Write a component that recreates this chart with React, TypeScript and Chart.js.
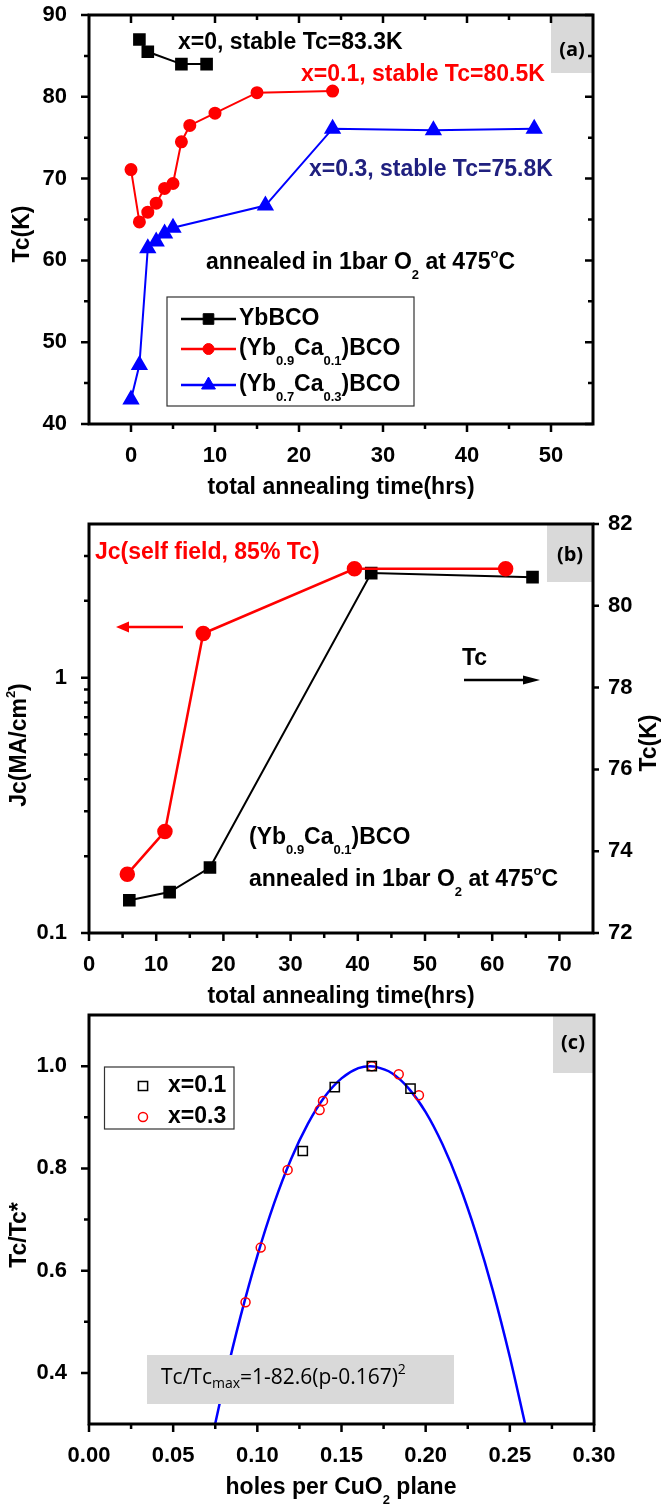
import React, { useEffect, useRef } from 'react';
import { Chart, registerables } from 'chart.js';

Chart.register(...registerables);

const SANS = '"Liberation Sans", Arial, Helvetica, sans-serif';
const ALT = '"Open Sans", "Noto Sans", sans-serif';
const RED = '#ff0000';
const BLUE = '#0000ff';
const NAVY = '#20207f';
const GRAY = '#d9d9d9';

// ---------- Panel (a): Tc vs total annealing time ----------
const timeX0 = [1, 2, 6, 9];
const tcX0 = [87.0, 85.5, 84.0, 84.0];
const timeX01 = [0, 1, 2, 3, 4, 5, 6, 7, 10, 15, 24];
const tcX01 = [71.1, 64.7, 65.9, 67.0, 68.8, 69.4, 74.5, 76.5, 78.0, 80.5, 80.7];
const timeX03 = [0, 1, 2, 3, 4, 5, 16, 24, 36, 48];
const tcX03 = [43.0, 47.2, 61.5, 62.3, 63.3, 64.0, 66.7, 76.1, 75.9, 76.1];
const xTicksA = [0, 10, 20, 30, 40, 50];
const xMinorA = [5, 15, 25, 35, 45];
const yTicksA = [40, 50, 60, 70, 80, 90];
const yMinorA = [45, 55, 65, 75, 85];

// ---------- Panel (b): Jc and Tc vs time ----------
const timeJc = [5.7, 11.3, 17.0, 39.5, 62.0];
const jcValues = [0.17, 0.25, 1.49, 2.67, 2.67];
const timeTcB = [6, 12, 18, 42, 66];
const tcValuesB = [72.8, 73.0, 73.6, 80.8, 80.7];
const xTicksB = [0, 10, 20, 30, 40, 50, 60, 70];
const xMinorB = [5, 15, 25, 35, 45, 55, 65];
const jcTicks = [0.1, 1];
const jcMinor = [0.2, 0.3, 0.4, 0.5, 0.6, 0.7, 0.8, 0.9, 2, 3];
const tcTicksB = [72, 74, 76, 78, 80, 82];

// ---------- Panel (c): Tc/Tc* vs hole concentration ----------
const holesX01 = [0.127, 0.146, 0.168, 0.191];
const ratioX01 = [0.834, 0.959, 1.0, 0.956];
const holesX03 = [0.093, 0.102, 0.118, 0.137, 0.139, 0.168, 0.184, 0.196];
const ratioX03 = [0.538, 0.645, 0.797, 0.914, 0.932, 1.0, 0.984, 0.943];
const fitHoles = [0.075, 0.08, 0.09, 0.1, 0.11, 0.12, 0.13, 0.14, 0.15, 0.16, 0.167, 0.17, 0.18, 0.19, 0.2, 0.21, 0.22, 0.23, 0.24, 0.25, 0.259];
const fitRatio = [0.301, 0.375, 0.51, 0.629, 0.732, 0.818, 0.887, 0.94, 0.976, 0.996, 1.0, 0.999, 0.986, 0.956, 0.91, 0.847, 0.768, 0.672, 0.56, 0.431, 0.301];
const xTicksC = [0, 0.05, 0.1, 0.15, 0.2, 0.25, 0.3];
const xMinorC = [0.025, 0.075, 0.125, 0.175, 0.225, 0.275];
const yTicksC = [0.4, 0.6, 0.8, 1.0];
const yMinorC = [0.5, 0.7, 0.9];

// ---------- helpers ----------
type Part = { t: string; k?: 'sub' | 'sup' };
interface RichOpt {
  size: number; small?: number; weight?: string; family?: string; color?: string;
  align?: 'left' | 'center'; subDy?: number; supDy?: number;
}

function drawRich(ctx: CanvasRenderingContext2D, parts: Part[], x: number, y: number, o: RichOpt) {
  const size = o.size;
  const small = o.small ?? Math.round(size * 0.58);
  const weight = o.weight ?? 'bold';
  const fam = o.family ?? SANS;
  const fontFor = (p: Part) => `${weight} ${p.k ? small : size}px ${fam}`;
  let total = 0;
  const widths = parts.map((p) => {
    ctx.font = fontFor(p);
    const w = ctx.measureText(p.t).width;
    total += w;
    return w;
  });
  let cx = o.align === 'center' ? x - total / 2 : x;
  ctx.fillStyle = o.color ?? '#000';
  ctx.textAlign = 'left';
  ctx.textBaseline = 'middle';
  parts.forEach((p, i) => {
    ctx.font = fontFor(p);
    const dy = p.k === 'sub' ? (o.subDy ?? size * 0.5) : p.k === 'sup' ? (o.supDy ?? -size * 0.42) : 0;
    ctx.fillText(p.t, cx, y + dy);
    cx += widths[i];
  });
}

function drawRotated(ctx: CanvasRenderingContext2D, parts: Part[], x: number, y: number, o: RichOpt) {
  ctx.save();
  ctx.translate(x, y);
  ctx.rotate(-Math.PI / 2);
  drawRich(ctx, parts, 0, 0, { ...o, align: 'center' });
  ctx.restore();
}

function marker(ctx: CanvasRenderingContext2D, style: string, x: number, y: number, r: number, fill: string | null, stroke: string, lw: number) {
  ctx.beginPath();
  if (style === 'rect') {
    const h = r * Math.SQRT1_2;
    ctx.rect(x - h, y - h, 2 * h, 2 * h);
  } else if (style === 'circle') {
    ctx.arc(x, y, r, 0, Math.PI * 2);
  } else {
    for (let i = 0; i < 3; i++) {
      const a = (i * 2 * Math.PI) / 3;
      const px = x + Math.sin(a) * r;
      const py = y - Math.cos(a) * r;
      if (i === 0) ctx.moveTo(px, py); else ctx.lineTo(px, py);
    }
    ctx.closePath();
  }
  if (fill) { ctx.fillStyle = fill; ctx.fill(); }
  ctx.lineWidth = lw;
  ctx.strokeStyle = stroke;
  ctx.stroke();
}

function drawTicks(chart: any, scaleId: string, side: string, dir: 'in' | 'out', values: number[], len: number) {
  const ctx: CanvasRenderingContext2D = chart.ctx;
  const s = chart.scales[scaleId];
  const a = chart.chartArea;
  ctx.beginPath();
  ctx.lineWidth = 2.5;
  ctx.strokeStyle = '#000';
  values.forEach((v) => {
    const p = s.getPixelForValue(v);
    const sgn = dir === 'out' ? 1 : -1;
    if (side === 'bottom') { ctx.moveTo(p, a.bottom); ctx.lineTo(p, a.bottom + sgn * len); }
    if (side === 'top') { ctx.moveTo(p, a.top); ctx.lineTo(p, a.top - sgn * len); }
    if (side === 'left') { ctx.moveTo(a.left, p); ctx.lineTo(a.left - sgn * len, p); }
    if (side === 'right') { ctx.moveTo(a.right, p); ctx.lineTo(a.right + sgn * len, p); }
  });
  ctx.stroke();
}

function drawFrame(chart: any) {
  const ctx: CanvasRenderingContext2D = chart.ctx;
  const a = chart.chartArea;
  ctx.lineWidth = 3;
  ctx.strokeStyle = '#000';
  ctx.strokeRect(a.left, a.top, a.right - a.left, a.bottom - a.top);
}

function labelBox(ctx: CanvasRenderingContext2D, txt: string, x0: number, y0: number, x1: number, y1: number, tx: number, ty: number) {
  ctx.fillStyle = GRAY;
  ctx.fillRect(x0, y0, x1 - x0, y1 - y0);
  ctx.fillStyle = '#000';
  ctx.font = `bold 20px ${ALT}`;
  ctx.textAlign = 'center';
  ctx.textBaseline = 'middle';
  ctx.fillText(txt, tx, ty);
}

function arrow(ctx: CanvasRenderingContext2D, x0: number, x1: number, y: number, color: string, headL: number, headH: number) {
  const dir = Math.sign(x1 - x0);
  ctx.strokeStyle = color;
  ctx.fillStyle = color;
  ctx.lineWidth = 2.5;
  ctx.beginPath();
  ctx.moveTo(x0, y);
  ctx.lineTo(x1 - dir * headL * 0.8, y);
  ctx.stroke();
  ctx.beginPath();
  ctx.moveTo(x1, y);
  ctx.lineTo(x1 - dir * headL, y - headH / 2);
  ctx.lineTo(x1 - dir * headL, y + headH / 2);
  ctx.closePath();
  ctx.fill();
}

const tickFont = { family: SANS, size: 22, weight: 'bold' as const };

function xAxis(min: number, max: number, ticks: number[], height: number, fmt: (v: number) => string) {
  return {
    type: 'linear',
    min, max,
    grid: { display: false },
    border: { display: false },
    ticks: { font: tickFont, color: '#000', padding: 11, maxRotation: 0, autoSkip: false, callback: (v: number) => fmt(v) },
    afterBuildTicks: (s: any) => { s.ticks = ticks.map((v) => ({ value: v })); },
    afterFit: (s: any) => { s.height = height; s.paddingLeft = 0; s.paddingRight = 0; },
  };
}

function yAxis(type: string, min: number, max: number, ticks: number[], width: number, fmt: (v: number) => string, position: string, padding: number) {
  return {
    type,
    position,
    min, max,
    grid: { display: false },
    border: { display: false },
    ticks: { font: tickFont, color: '#000', padding, autoSkip: false, callback: (v: number) => fmt(v) },
    afterBuildTicks: (s: any) => { s.ticks = ticks.map((v) => ({ value: v })); },
    afterFit: (s: any) => { s.width = width; s.paddingTop = 0; s.paddingBottom = 0; },
  };
}

const pts = (xs: number[], ys: number[]) => xs.map((x, i) => ({ x, y: ys[i] }));

const baseOptions = (padding: any) => ({
  responsive: false,
  animation: false,
  devicePixelRatio: 1,
  events: [],
  layout: { padding },
  plugins: { legend: { display: false }, tooltip: { enabled: false } },
});

// ---------- Chart (a) ----------
const TOP_A = 0, H_A = 515, BOT_A = 424;
const decorA = {
  id: 'decorA',
  afterDatasetsDraw(chart: any) {
    const ctx: CanvasRenderingContext2D = chart.ctx;
    const a = chart.chartArea;
    ctx.save();
    ctx.translate(0, -TOP_A);
    labelBox(ctx, '(a)', 551, a.top + TOP_A, a.right, 73, 572, 50);
    ctx.restore();
    drawFrame(chart);
    drawTicks(chart, 'x', 'bottom', 'out', xTicksA, 8);
    drawTicks(chart, 'x', 'bottom', 'out', xMinorA, 5);
    drawTicks(chart, 'x', 'top', 'in', xTicksA, 8);
    drawTicks(chart, 'x', 'top', 'in', xMinorA, 5);
    drawTicks(chart, 'y', 'left', 'out', yTicksA, 8);
    drawTicks(chart, 'y', 'left', 'out', yMinorA, 5);
    drawTicks(chart, 'y', 'right', 'in', yTicksA, 8);
    drawTicks(chart, 'y', 'right', 'in', yMinorA, 5);
    ctx.save();
    ctx.translate(0, -TOP_A);
    drawRich(ctx, [{ t: 'x=0, stable Tc=83.3K' }], 178, 43, { size: 23 });
    drawRich(ctx, [{ t: 'x=0.1, stable Tc=80.5K' }], 301, 75, { size: 23, color: RED });
    drawRich(ctx, [{ t: 'x=0.3, stable Tc=75.8K' }], 309, 170, { size: 23, color: NAVY });
    drawRich(ctx, [{ t: 'annealed in 1bar O' }, { t: '2', k: 'sub' }, { t: ' at 475' }, { t: 'o', k: 'sup' }, { t: 'C' }], 206, 263,
      { size: 23, small: 13, subDy: 12, supDy: -9 });
    // legend
    ctx.lineWidth = 1.2;
    ctx.strokeStyle = '#333';
    ctx.strokeRect(167, 297, 247, 109);
    const rows: [number, string, string, Part[]][] = [
      [319, '#000', 'rect', [{ t: 'YbBCO' }]],
      [349, RED, 'circle', [{ t: '(Yb' }, { t: '0.9', k: 'sub' }, { t: 'Ca' }, { t: '0.1', k: 'sub' }, { t: ')BCO' }]],
      [385, BLUE, 'triangle', [{ t: '(Yb' }, { t: '0.7', k: 'sub' }, { t: 'Ca' }, { t: '0.3', k: 'sub' }, { t: ')BCO' }]],
    ];
    rows.forEach(([y, c, st, parts]) => {
      ctx.strokeStyle = c;
      ctx.lineWidth = 2.5;
      ctx.beginPath();
      ctx.moveTo(181, y);
      ctx.lineTo(236, y);
      ctx.stroke();
      marker(ctx, st, 208.5, y, st === 'rect' ? 7.5 : st === 'circle' ? 5.5 : 8, c, c, 1);
      drawRich(ctx, parts, 239, y, { size: 23, small: 13, subDy: 12 });
    });
    drawRotated(ctx, [{ t: 'Tc(K)' }], 23, 234, { size: 23 });
    drawRich(ctx, [{ t: 'total annealing time(hrs)' }], 341, 488, { size: 23, align: 'center' });
    ctx.restore();
  },
};

function configA(): any {
  return {
    type: 'line',
    data: {
      datasets: [
        { data: pts(timeX0, tcX0), borderColor: '#000', backgroundColor: '#000', pointStyle: 'rect', pointRadius: 7.5, borderWidth: 2, tension: 0 },
        { data: pts(timeX01, tcX01), borderColor: RED, backgroundColor: RED, pointStyle: 'circle', pointRadius: 5.5, borderWidth: 2, tension: 0 },
        { data: pts(timeX03, tcX03), borderColor: BLUE, backgroundColor: BLUE, pointStyle: 'triangle', pointRadius: 8, borderWidth: 2, tension: 0 },
      ],
    },
    options: {
      ...baseOptions({ top: 15 - TOP_A, right: 78, left: 0, bottom: 0 }),
      scales: {
        x: xAxis(-5, 55, xTicksA, TOP_A + H_A - BOT_A, (v) => String(v)),
        y: yAxis('linear', 40, 90, yTicksA, 89, (v) => String(v), 'left', 14),
      },
    },
    plugins: [decorA],
  };
}

// ---------- Chart (b) ----------
const TOP_B = 505, H_B = 510, BOT_B = 933;
const decorB = {
  id: 'decorB',
  afterDatasetsDraw(chart: any) {
    const ctx: CanvasRenderingContext2D = chart.ctx;
    const a = chart.chartArea;
    ctx.save();
    ctx.translate(0, -TOP_B);
    labelBox(ctx, '(b)', 547, a.top + TOP_B, a.right, 582, 570, 555);
    ctx.restore();
    drawFrame(chart);
    drawTicks(chart, 'x', 'bottom', 'out', xTicksB, 8);
    drawTicks(chart, 'x', 'bottom', 'out', xMinorB, 5);
    drawTicks(chart, 'y', 'left', 'out', jcTicks, 8);
    drawTicks(chart, 'y', 'left', 'out', jcMinor, 5);
    drawTicks(chart, 'y2', 'right', 'out', tcTicksB, 6);
    ctx.save();
    ctx.translate(0, -TOP_B);
    drawRich(ctx, [{ t: 'Jc(self field, 85% Tc)' }], 95, 553, { size: 23, color: RED });
    arrow(ctx, 183, 116, 627, RED, 13, 11);
    drawRich(ctx, [{ t: 'Tc' }], 462, 659, { size: 23 });
    arrow(ctx, 464, 540, 680, '#000', 17, 9);
    drawRich(ctx, [{ t: '(Yb' }, { t: '0.9', k: 'sub' }, { t: 'Ca' }, { t: '0.1', k: 'sub' }, { t: ')BCO' }], 249, 838,
      { size: 23, small: 13, subDy: 12 });
    drawRich(ctx, [{ t: 'annealed in 1bar O' }, { t: '2', k: 'sub' }, { t: ' at 475' }, { t: 'o', k: 'sup' }, { t: 'C' }], 249, 880,
      { size: 23, small: 13, subDy: 12, supDy: -9 });
    drawRotated(ctx, [{ t: 'Jc(MA/cm' }, { t: '2', k: 'sup' }, { t: ')' }], 20, 745, { size: 23, small: 13, supDy: -9 });
    drawRotated(ctx, [{ t: 'Tc(K)' }], 650, 743, { size: 23 });
    drawRich(ctx, [{ t: 'total annealing time(hrs)' }], 341, 997, { size: 23, align: 'center' });
    ctx.restore();
  },
};

function configB(): any {
  const isDecade = (v: number) => Math.abs(Math.log10(v) - Math.round(Math.log10(v))) < 1e-6;
  return {
    type: 'line',
    data: {
      datasets: [
        { data: pts(timeJc, jcValues), yAxisID: 'y', borderColor: RED, backgroundColor: RED, pointStyle: 'circle', pointRadius: 6.5, borderWidth: 2.5, tension: 0 },
        { data: pts(timeTcB, tcValuesB), yAxisID: 'y2', borderColor: '#000', backgroundColor: '#000', pointStyle: 'rect', pointRadius: 7.5, borderWidth: 2, tension: 0 },
      ],
    },
    options: {
      ...baseOptions({ top: 524 - TOP_B, right: 0, left: 0, bottom: 0 }),
      scales: {
        x: xAxis(0, 75, xTicksB, TOP_B + H_B - BOT_B, (v) => String(v)),
        y: yAxis('logarithmic', 0.1, 4, jcTicks, 89, (v) => (isDecade(v) ? (v < 0.5 ? '0.1' : '1') : ''), 'left', 14),
        y2: yAxis('linear', 72, 82, tcTicksB, 78, (v) => String(v), 'right', 7),
      },
    },
    plugins: [decorB],
  };
}

// ---------- Chart (c) ----------
const TOP_C = 1005, H_C = 499, BOT_C = 1424;
const decorC = {
  id: 'decorC',
  afterDatasetsDraw(chart: any) {
    const ctx: CanvasRenderingContext2D = chart.ctx;
    const a = chart.chartArea;
    ctx.save();
    ctx.translate(0, -TOP_C);
    labelBox(ctx, '(c)', 553, a.top + TOP_C, a.right, 1073, 573, 1043);
    // formula box
    ctx.fillStyle = GRAY;
    ctx.fillRect(147, 1355, 307, 49);
    drawRich(ctx, [{ t: 'Tc/Tc' }, { t: 'max', k: 'sub' }, { t: '=1-82.6(p-0.167)' }, { t: '2', k: 'sup' }], 161, 1378,
      { size: 21, small: 14, weight: 'normal', family: ALT, subDy: 6, supDy: -8 });
    ctx.restore();
    drawFrame(chart);
    drawTicks(chart, 'x', 'bottom', 'out', xTicksC, 8);
    drawTicks(chart, 'x', 'bottom', 'out', xMinorC, 5);
    drawTicks(chart, 'y', 'left', 'out', yTicksC, 8);
    drawTicks(chart, 'y', 'left', 'out', yMinorC, 5);
    ctx.save();
    ctx.translate(0, -TOP_C);
    // legend
    ctx.lineWidth = 1.2;
    ctx.strokeStyle = '#333';
    ctx.strokeRect(104.5, 1067, 129.5, 62);
    marker(ctx, 'rect', 143, 1086, 6.5, null, '#000', 1.5);
    drawRich(ctx, [{ t: 'x=0.1' }], 168, 1086, { size: 23 });
    marker(ctx, 'circle', 143, 1117, 4.5, null, RED, 1.5);
    drawRich(ctx, [{ t: 'x=0.3' }], 168, 1117, { size: 23 });
    drawRotated(ctx, [{ t: 'Tc/Tc*' }], 20, 1235, { size: 23 });
    drawRich(ctx, [{ t: 'holes per CuO' }, { t: '2', k: 'sub' }, { t: ' plane' }], 341, 1488,
      { size: 23, small: 13, subDy: 12, align: 'center' });
    ctx.restore();
  },
};

function configC(): any {
  return {
    type: 'line',
    data: {
      datasets: [
        { data: pts(holesX01, ratioX01), showLine: false, borderColor: '#000', backgroundColor: 'rgba(0,0,0,0)', pointStyle: 'rect', pointRadius: 6.5, pointBorderWidth: 1.5 },
        { data: pts(holesX03, ratioX03), showLine: false, borderColor: RED, backgroundColor: 'rgba(0,0,0,0)', pointStyle: 'circle', pointRadius: 4.5, pointBorderWidth: 1.5 },
        { data: pts(fitHoles, fitRatio), borderColor: BLUE, borderWidth: 2.5, pointRadius: 0, cubicInterpolationMode: 'monotone' },
      ],
    },
    options: {
      ...baseOptions({ top: 1015 - TOP_C, right: 671 - 594, left: 0, bottom: 0 }),
      scales: {
        x: xAxis(0, 0.3, xTicksC, TOP_C + H_C - BOT_C, (v) => v.toFixed(2)),
        y: yAxis('linear', 0.3, 1.1, yTicksC, 89, (v) => v.toFixed(1), 'left', 14),
      },
    },
    plugins: [decorC],
  };
}

export default function App() {
  const refA = useRef<HTMLCanvasElement>(null);
  const refB = useRef<HTMLCanvasElement>(null);
  const refC = useRef<HTMLCanvasElement>(null);

  useEffect(() => {
    const charts = [
      new Chart(refA.current as HTMLCanvasElement, configA()),
      new Chart(refB.current as HTMLCanvasElement, configB()),
      new Chart(refC.current as HTMLCanvasElement, configC()),
    ];
    return () => charts.forEach((c) => c.destroy());
  }, []);

  const cs = (top: number): React.CSSProperties => ({ position: 'absolute', left: 0, top, display: 'block' });
  return (
    <div style={{ position: 'absolute', left: 0, top: 0, width: 671, height: 1504, background: '#fff', overflow: 'hidden' }}>
      <canvas ref={refA} width={671} height={H_A} style={cs(TOP_A)} />
      <canvas ref={refB} width={671} height={H_B} style={cs(TOP_B)} />
      <canvas ref={refC} width={671} height={H_C} style={cs(TOP_C)} />
    </div>
  );
}
